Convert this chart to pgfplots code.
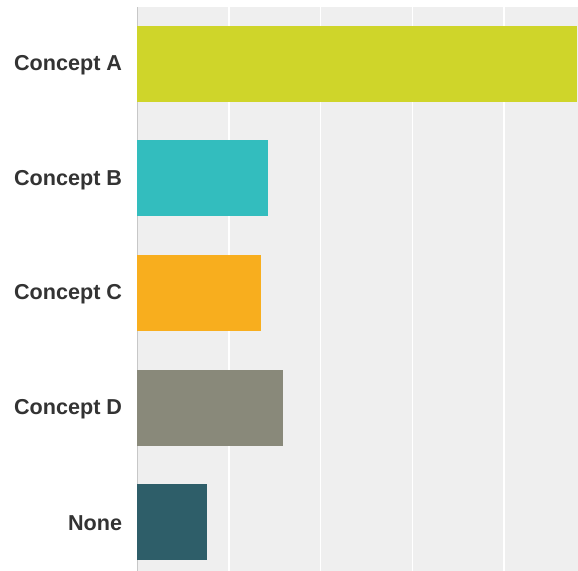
\documentclass[border=0pt]{standalone}
\usepackage{fontspec}
\setmainfont{Liberation Sans}
\usepackage{pgfplots}
\pgfplotsset{compat=1.18}

\definecolor{barA}{HTML}{CFD52A}
\definecolor{barB}{HTML}{33BDBE}
\definecolor{barC}{HTML}{F8AE1E}
\definecolor{barD}{HTML}{89897A}
\definecolor{barN}{HTML}{2E5E69}
\definecolor{panel}{HTML}{EFEFEF}
\definecolor{lbl}{HTML}{333333}

\begin{document}
\begin{tikzpicture}
  \begin{axis}[
      xbar,
      scale only axis,
      width=441bp, height=564bp,
      xmin=0, xmax=48.06,
      ymin=-0.424, ymax=4.497,
      enlargelimits=false,
      bar width=76bp,
      bar shift=0pt,
      axis lines=left,
      x axis line style={draw=none},
      y axis line style={-, draw=black!22, line width=1bp},
      axis background/.style={fill=panel},
      xtick={10,20,30,40},
      xticklabels={},
      xmajorgrids,
      grid style={white, line width=1.5bp},
      ytick={0,1,2,3,4},
      yticklabels={None, Concept D, Concept C, Concept B, Concept A},
      major tick length=0pt,
      yticklabel style={font=\fontsize{21.6bp}{25bp}\selectfont\bfseries,
        text=lbl, inner sep=0pt, xshift=-15bp, yshift=-1.5bp},
    ]
    % Concept A
    \addplot[fill=barA, draw=none] coordinates {(48.0,4)};
    % Concept B
    \addplot[fill=barB, draw=none] coordinates {(14.25,3)};
    % Concept C
    \addplot[fill=barC, draw=none] coordinates {(13.45,2)};
    % Concept D
    \addplot[fill=barD, draw=none] coordinates {(15.92,1)};
    % None
    \addplot[fill=barN, draw=none] coordinates {(7.62,0)};
  \end{axis}
  \pgfresetboundingbox
  \path ([xshift=-137.3bp]current axis.south west) rectangle ([yshift=7bp]current axis.north east);
\end{tikzpicture}
\end{document}
